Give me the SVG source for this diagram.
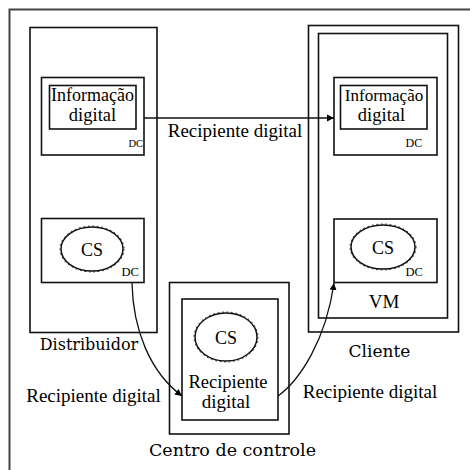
<svg xmlns="http://www.w3.org/2000/svg" width="470" height="470" viewBox="0 0 470 470">
<style>
.box{fill:none;stroke:#111;stroke-width:1.6}
.cs{fill:none;stroke:#111;stroke-width:1.5}
.csb{fill:none;stroke:#111;stroke-width:1;stroke-dasharray:1.5 3}
.conn{fill:none;stroke:#111;stroke-width:1.3}
</style>
<defs>
<marker id="ah" markerWidth="8" markerHeight="8" refX="7" refY="4" orient="auto" markerUnits="userSpaceOnUse">
<path d="M0,0.5 L7,4 L0,7.5 Z" fill="#000"/>
</marker>
</defs>
<rect width="470" height="470" fill="#fff"/>
<rect x="9.5" y="9.5" width="480" height="480" fill="none" stroke="#444" stroke-width="2"/>

<g id="distribuidor">
<rect class="box" x="30" y="27.5" width="127" height="305"/>
<text x="89" y="350" font-family="DejaVu Serif" font-size="16" text-anchor="middle">Distribuidor</text>
</g>
<g id="dist-info">
<rect class="box" x="41.5" y="77.5" width="102.5" height="77.5"/>
<rect class="box" x="49.5" y="85.5" width="86.5" height="43.5"/>
<text x="92.5" y="101" font-family="Liberation Serif" font-size="18" text-anchor="middle">Informação</text>
<text x="92.5" y="121" font-family="Liberation Serif" font-size="18.5" text-anchor="middle">digital</text>
<text x="128.5" y="147" font-family="Liberation Serif" font-size="10.5">DC</text>
</g>
<g id="dist-cs">
<rect class="box" x="41.5" y="218.5" width="102.5" height="64"/>
<ellipse class="cs" cx="92" cy="249" rx="31" ry="22"/>
<ellipse class="csb" cx="92" cy="249" rx="32" ry="23"/>
<text x="92" y="256" font-family="Liberation Serif" font-size="18" text-anchor="middle">CS</text>
<text x="121.5" y="276" font-family="Liberation Serif" font-size="12.5">DC</text>
</g>

<g id="cliente">
<rect class="box" x="308.5" y="25.5" width="150" height="306.5"/>
<rect class="box" x="318.5" y="33.5" width="129" height="284.5"/>
<text x="384" y="308" font-family="Liberation Serif" font-size="19" text-anchor="middle">VM</text>
<text x="379.5" y="357" font-family="DejaVu Serif" font-size="17" text-anchor="middle">Cliente</text>
</g>
<g id="cli-info">
<rect class="box" x="334" y="77.5" width="103" height="77.5"/>
<rect class="box" x="340.5" y="85.5" width="86.5" height="43.5"/>
<text x="384" y="101" font-family="Liberation Serif" font-size="17" text-anchor="middle">Informação</text>
<text x="381.5" y="121" font-family="Liberation Serif" font-size="18.5" text-anchor="middle">digital</text>
<text x="405.5" y="147" font-family="Liberation Serif" font-size="12">DC</text>
</g>
<g id="cli-cs">
<rect class="box" x="334" y="219" width="103" height="63.5"/>
<ellipse class="cs" cx="383" cy="247" rx="32" ry="22"/>
<ellipse class="csb" cx="383" cy="247" rx="33" ry="23"/>
<text x="383" y="254" font-family="Liberation Serif" font-size="18" text-anchor="middle">CS</text>
<text x="405.5" y="276" font-family="Liberation Serif" font-size="12.5">DC</text>
</g>

<g id="centro">
<rect class="box" x="169.5" y="282.5" width="119.5" height="151.5"/>
<rect class="box" x="182" y="299" width="96" height="121"/>
<ellipse class="cs" cx="226" cy="337" rx="31" ry="24"/>
<ellipse class="csb" cx="226" cy="337" rx="32" ry="25"/>
<text x="226" y="344" font-family="Liberation Serif" font-size="18" text-anchor="middle">CS</text>
<text x="228" y="388" font-family="Liberation Serif" font-size="18.5" text-anchor="middle">Recipiente</text>
<text x="226" y="408" font-family="Liberation Serif" font-size="19" text-anchor="middle">digital</text>
<text x="232.5" y="456" font-family="DejaVu Serif" font-size="17.5" text-anchor="middle">Centro de controle</text>
</g>

<g id="connectors">
<line class="conn" x1="144" y1="118" x2="334" y2="118" marker-end="url(#ah)"/>
<path class="conn" d="M132,283 C133,330 150,372 182,396" marker-end="url(#ah)"/>
<path class="conn" d="M278,396 C300,380 326,340 334,283" marker-end="url(#ah)"/>
<text x="235" y="137" font-family="Liberation Serif" font-size="19" text-anchor="middle">Recipiente digital</text>
<text x="93.5" y="402" font-family="Liberation Serif" font-size="19" text-anchor="middle">Recipiente digital</text>
<text x="370" y="398" font-family="Liberation Serif" font-size="19" text-anchor="middle">Recipiente digital</text>
</g>
</svg>
